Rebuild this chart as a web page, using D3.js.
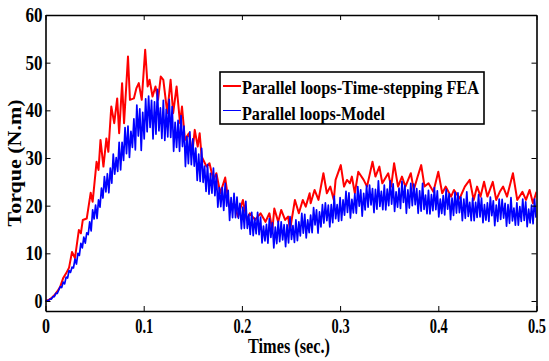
<!DOCTYPE html>
<html>
<head>
<meta charset="utf-8">
<script src="https://cdn.jsdelivr.net/npm/d3@7"></script>
<style>
  html, body { margin: 0; padding: 0; background: #fff; }
  svg { display: block; }
  text { font-family: "Liberation Serif", "Times New Roman", serif; font-weight: bold; fill: #000; }
</style>
</head>
<body>
<svg id="chart" width="549" height="361"></svg>
<script>
// ---- data ----
const xTicks = [0, 0.1, 0.2, 0.3, 0.4, 0.5];
const yTicks = [0, 10, 20, 30, 40, 50, 60];
const seriesNames = ["Parallel loops-Time-stepping FEA", "Parallel loops-Model"];

// FEA (red) samples: time (s) and torque (N.m)
const redTime = [
  0,0.003,0.006,0.009,0.012,0.015,0.018,0.021,0.024,0.027,
  0.030,0.034,0.036,0.038,0.042,0.046,0.048,0.052,0.054,0.056,
  0.059,0.062,0.064,0.067,0.070,0.073,0.075,0.078,0.080,0.084,
  0.086,0.090,0.0925,0.095,0.098,0.1015,0.104,0.106,0.109,0.112,
  0.1146,0.1174,0.120,0.124,0.1274,0.130,0.1335,0.137,0.139,0.142,
  0.146,0.1495,0.152,0.155,0.157,0.159,0.164,0.167,0.171,0.174,
  0.178,0.183,0.187,0.192,0.196,0.201,0.205,0.208,0.2135,0.219,
  0.224,0.228,0.231,0.233,0.237,0.240,0.244,0.247,0.249,0.254,
  0.258,0.262,0.265,0.269,0.270,0.274,0.278,0.283,0.2865,0.290,
  0.2936,0.2954,0.3007,0.304,0.307,0.310,0.312,0.315,0.3185,0.324,
  0.3274,0.333,0.336,0.340,0.343,0.349,0.352,0.355,0.359,0.363,
  0.3665,0.372,0.375,0.379,0.3826,0.386,0.390,0.395,0.400,0.404,
  0.4075,0.413,0.416,0.4217,0.427,0.432,0.436,0.4395,0.443,0.4466,
  0.450,0.4555,0.459,0.4626,0.466,0.470,0.476,0.4804,0.4857,0.4893,
  0.493,0.4964,0.500
];
const redTorque = [
  0,0.2,0.6,1.2,2.0,3.0,4.8,5.8,7.0,10.3,
  9.0,14.9,14.2,17.0,17.3,22.7,20.8,29.2,27.5,33.8,
  28.2,34.1,31.3,40.8,37.3,42.5,35.2,45.7,37.3,51.3,
  42.2,42.5,44.6,45.7,42.2,52.7,45.0,46.4,42.9,45.0,
  42.2,47.1,46.4,39.4,46.4,39.4,45.0,37.3,40.8,33.8,
  35.2,31.0,35.9,32.4,35.2,30.3,28.2,28.9,25.4,26.8,
  22.6,25.9,19.8,20.5,17.7,21.2,17.0,18.4,17.0,18.4,
  16.6,18.4,14.9,19.4,16.6,19.1,17.0,17.7,14.9,21.2,
  18.4,21.2,19.8,22.6,20.5,23.3,21.2,26.8,22.6,24.0,
  21.2,25.4,28.5,24.0,25.4,24.7,26.1,22.6,27.1,25.4,
  24.0,29.2,26.1,28.2,24.7,26.8,24.0,28.9,24.0,26.1,
  24.0,26.8,23.3,26.1,28.5,24.0,24.7,22.9,27.1,22.6,
  24.0,21.9,23.3,21.5,24.0,25.4,21.2,24.0,21.9,25.0,
  21.9,25.0,21.2,22.9,24.0,21.9,26.8,21.2,22.9,21.2,
  23.3,20.5,22.9
];

// Model (blue) samples every 1.5 ms, torque (N.m)
const blueStep = 0.0015;
const blueTorque = [
  0,0.1,0.1,0.4,0.4,0.9,0.9,1.6,1.6,2.3,
  3.0,2.8,3.95,3.6,5.0,4.8,6.4,6.0,7.1,6.95,
  8.8,7.75,10.0,9.55,12.1,11.15,13.4,12.15,14.3,13.95,
  16.6,14.7,19.1,17.2,20.1,17.3,21.2,19.7,23.7,21.6,
  26.1,22.9,26.7,22.7,27.9,24.7,30.8,26.6,30.1,27.2,
  33.3,27.5,33.3,29.5,36.4,30.9,36.7,30.1,35.6,32.2,
  38.2,31.7,41.1,34.6,40.3,31.6,39.6,34.0,42.4,35.5,
  43.0,36.4,42.1,34.0,41.8,35.0,44.4,35.7,40.5,34.1,
  42.1,33.7,40.2,34.4,42.3,34.3,40.8,31.4,37.5,32.2,
  37.9,31.4,38.9,32.4,36.7,28.2,34.5,28.8,35.5,28.6,
  34.0,28.3,32.1,25.3,30.8,25.1,32.0,24.9,28.3,23.0,
  28.6,22.4,26.8,22.6,27.9,22.1,26.5,19.7,23.8,19.8,
  23.8,19.0,24.7,19.9,23.2,16.9,21.7,17.5,22.6,17.5,
  21.8,17.35,20.5,15.15,19.7,15.25,20.9,15.25,18.1,13.95,
  18.6,13.7,17.4,14.1,18.6,13.9,17.6,12.2,15.7,12.6,
  16.1,12.15,17.3,13.35,16.4,11.15,15.5,12.05,16.7,12.45,
  16.6,12.8,16.0,11.4,16.0,12.2,17.7,12.9,15.8,12.3,
  17.0,12.65,16.6,13.65,18.4,14.25,18.2,13.25,17.0,14.35,
  18.0,14.35,19.6,15.95,19.1,14.25,18.7,15.55,20.2,16.35,
  20.6,16.85,20.1,15.55,20.2,16.45,22.0,17.25,20.2,16.75,
  21.7,16.9,21.2,18.0,23.0,18.6,22.7,17.4,21.3,18.5,
  22.5,18.4,24.0,19.9,23.3,17.8,22.6,19.1,24.2,19.7,
  24.3,20.15,23.6,18.55,23.4,19.25,25.2,19.85,23.0,19.15,
  24.3,19.1,23.5,20.0,25.2,20.3,24.6,18.8,22.9,19.7,
  23.7,19.4,25.1,20.7,24.2,18.4,23.3,19.5,24.7,20.0,
  24.5,20.2,23.6,18.4,23.1,18.85,24.7,19.2,22.2,18.3,
  23.2,18.25,22.3,18.95,23.8,19.15,23.1,17.65,21.4,18.35,
  22.1,18.05,23.4,19.25,22.5,17.05,21.6,17.95,22.8,18.45,
  22.7,18.55,21.8,16.85,21.4,17.35,22.9,17.75,20.7,16.85,
  21.6,16.85,20.7,17.55,22.3,17.65,21.6,16.45,20.2,16.95,
  20.6,16.7,21.8,17.9,21.0,15.8,20.1,16.7,21.4,17.1,
  21.3,17.4,20.5,15.7,20.2,16.3,21.7,16.8,19.5,15.9,
  20.6,15.9,19.8,16.7,21.4,16.9,20.8,15.6,19.3,16.4,
  20.1,16.2,21.4,17.5
];

// ---- layout ----
const svg = d3.select("#chart");
const L = 45.5, R = 536.5, T = 15, B = 311;
const x = d3.scaleLinear().domain([0, 0.5]).range([L, R]);
const y = d3.scaleLinear().domain([-2.1, 60]).range([B, T]);

svg.append("defs").append("clipPath").attr("id", "clip")
  .append("rect").attr("x", L).attr("y", T).attr("width", R - L).attr("height", B - T);

const redData = redTime.map((t, i) => [t, redTorque[i]]);
const blueData = blueTorque.map((v, i) => [i * blueStep, v]);
const line = d3.line().x(d => x(d[0])).y(d => y(d[1]));

const plot = svg.append("g").attr("clip-path", "url(#clip)");
plot.append("path").datum(redData).attr("d", line)
  .attr("fill", "none").attr("stroke", "#ff0000").attr("stroke-width", 2).attr("stroke-linejoin", "round");
plot.append("path").datum(blueData).attr("d", line)
  .attr("fill", "none").attr("stroke", "#0000ff").attr("stroke-width", 1.7).attr("stroke-linejoin", "round");

// ---- axes (MATLAB box with inward ticks) ----
const fmtX = d => d === 0 ? "0" : d3.format(".1f")(d);
const gx = svg.append("g").attr("transform", `translate(0,${B})`)
  .call(d3.axisBottom(x).tickValues(xTicks).tickFormat(fmtX).tickSizeInner(-5).tickSizeOuter(0).tickPadding(8));
const gy = svg.append("g").attr("transform", `translate(${L},0)`)
  .call(d3.axisLeft(y).tickValues(yTicks).tickFormat(d3.format("d")).tickSizeInner(-5).tickSizeOuter(0).tickPadding(3));
const gt = svg.append("g").attr("transform", `translate(0,${T})`)
  .call(d3.axisTop(x).tickValues(xTicks).tickFormat("").tickSizeInner(-5).tickSizeOuter(0));
const gr = svg.append("g").attr("transform", `translate(${R},0)`)
  .call(d3.axisRight(y).tickValues(yTicks).tickFormat("").tickSizeInner(-5).tickSizeOuter(0));

[gx, gy, gt, gr].forEach(g => {
  g.select(".domain").attr("stroke", "#000").attr("stroke-width", 1.6);
  g.selectAll(".tick line").attr("stroke", "#000").attr("stroke-width", 1);
  g.selectAll("text").attr("font-family", null).attr("font-size", null);
});
gx.selectAll(".tick text").style("font-size", "20px")
  .attr("textLength", d => d === 0 ? 8 : 18).attr("lengthAdjust", "spacingAndGlyphs");
gy.selectAll(".tick text").style("font-size", "20px")
  .attr("textLength", d => d === 0 ? 8 : 17).attr("lengthAdjust", "spacingAndGlyphs");

// axis titles
svg.append("text").attr("x", 289).attr("y", 353).attr("text-anchor", "middle")
  .style("font-size", "21px").attr("textLength", 82).attr("lengthAdjust", "spacingAndGlyphs")
  .text("Times (sec.)");
svg.append("text").attr("transform", "translate(21,163) scale(0.85,1) rotate(-90)")
  .attr("text-anchor", "middle").style("font-size", "21px")
  .attr("textLength", 127).attr("lengthAdjust", "spacingAndGlyphs")
  .text("Torque (N.m)");

// ---- legend ----
const lg = svg.append("g");
lg.append("rect").attr("x", 220).attr("y", 72).attr("width", 264).attr("height", 52)
  .attr("fill", "#fff").attr("stroke", "#000").attr("stroke-width", 1.6);
const legendColors = ["#ff0000", "#0000ff"];
const legendWidths = [2, 1];
const legendTextLen = [237, 143];
seriesNames.forEach((name, i) => {
  const ly = 86 + i * 24.5;
  lg.append("line").attr("x1", 223).attr("x2", 241).attr("y1", ly).attr("y2", ly)
    .attr("stroke", legendColors[i]).attr("stroke-width", legendWidths[i]);
  lg.append("text").attr("x", 242).attr("y", 94 + i * 25.5).style("font-size", "18px")
    .attr("textLength", legendTextLen[i]).attr("lengthAdjust", "spacingAndGlyphs")
    .text(name);
});
</script>
</body>
</html>
